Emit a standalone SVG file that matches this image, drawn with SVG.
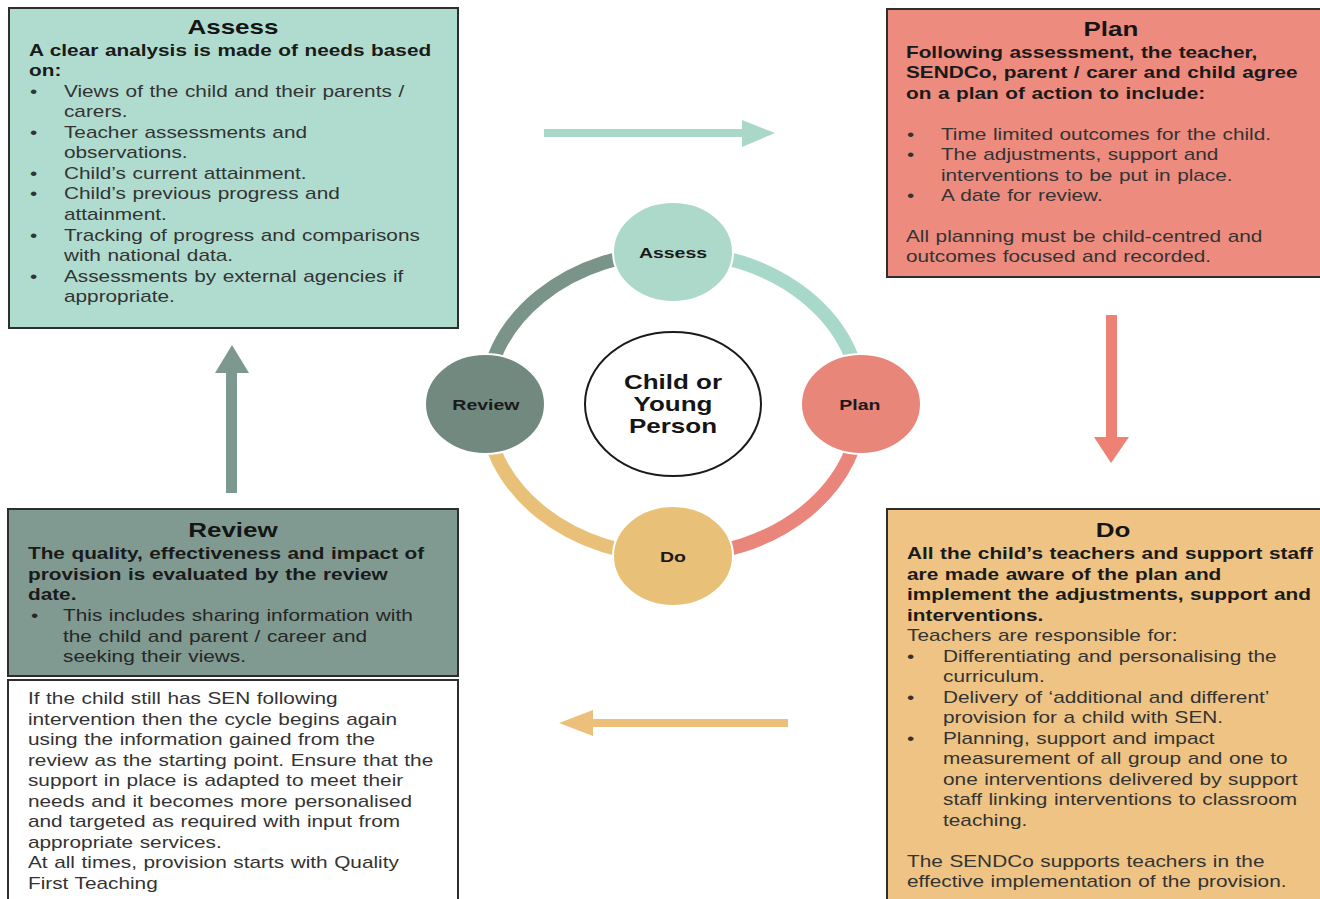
<svg xmlns="http://www.w3.org/2000/svg" width="1320" height="899" viewBox="0 0 1320 899">
<style>
  .t { font-family: "Liberation Sans", Arial, sans-serif; font-size: 16px; fill: #333333; word-spacing: 0.6px; }
  .b { font-weight: bold; fill: #1a1a1a; }
  .h { font-family: "Liberation Sans", Arial, sans-serif; font-size: 20px; font-weight: bold; text-anchor: middle; fill: #151515; }
  .c { font-family: "Liberation Sans", Arial, sans-serif; font-size: 15px; font-weight: bold; text-anchor: middle; fill: #1a1a1a; }
  .box { stroke: #2e2e2e; stroke-width: 2; }
  .ring { fill: none; stroke-width: 14; }
  .node { stroke: #ffffff; stroke-width: 2; }
</style>
<rect width="1320" height="899" fill="#ffffff"/>

<g id="connectors">
  <path class="ring" d="M673,252 A188,152 0 0 1 861,404" stroke="#a8d8c9"/>
  <path class="ring" d="M861,404 A188,152 0 0 1 673,556" stroke="#e9857a"/>
  <path class="ring" d="M673,556 A188,152 0 0 1 485,404" stroke="#e8c077"/>
  <path class="ring" d="M485,404 A188,152 0 0 1 673,252" stroke="#7b948a"/>
  <polygon points="544,129 742,129 742,120 775,133 742,147 742,137 544,137" fill="#a9d8c9"/>
  <polygon points="1106,315 1117,315 1117,437 1129,437 1111,463 1094,437 1106,437" fill="#ec8174"/>
  <polygon points="788,719 593,719 593,710 559,723 593,736 593,727 788,727" fill="#ecc07a"/>
  <polygon points="226,493 237,493 237,373 249,373 232,345 215,373 226,373" fill="#7d988e"/>
</g>

<g id="assess-box">
  <rect class="box" x="9" y="8" width="449" height="320" fill="#b0dccf"/>
  <g transform="scale(1.3 1)">
    <text class="h" x="179.2" y="34">Assess</text>
    <text class="t b" x="22.3" y="56">A clear analysis is made of needs based</text>
    <text class="t b" x="22.3" y="76">on:</text>
    <text class="t" x="23.1" y="97">•</text><text class="t" x="49.2" y="97">Views of the child and their parents /</text>
    <text class="t" x="49.2" y="117">carers.</text>
    <text class="t" x="23.1" y="138">•</text><text class="t" x="49.2" y="138">Teacher assessments  and</text>
    <text class="t" x="49.2" y="158">observations.</text>
    <text class="t" x="23.1" y="179">•</text><text class="t" x="49.2" y="179">Child’s current attainment.</text>
    <text class="t" x="23.1" y="199">•</text><text class="t" x="49.2" y="199">Child’s previous progress and</text>
    <text class="t" x="49.2" y="220">attainment.</text>
    <text class="t" x="23.1" y="241">•</text><text class="t" x="49.2" y="241">Tracking of progress and comparisons</text>
    <text class="t" x="49.2" y="261">with national data.</text>
    <text class="t" x="23.1" y="282">•</text><text class="t" x="49.2" y="282">Assessments by external agencies if</text>
    <text class="t" x="49.2" y="302">appropriate.</text>
  </g>
</g>

<g id="plan-box">
  <rect class="box" x="887" y="9" width="440" height="268" fill="#ee8b7f"/>
  <g transform="scale(1.3 1)">
    <text class="h" x="854.6" y="36">Plan</text>
    <text class="t b" x="696.9" y="58">Following assessment, the teacher,</text>
    <text class="t b" x="696.9" y="78">SENDCo, parent / carer and child agree</text>
    <text class="t b" x="696.9" y="99">on a plan of action to include:</text>
    <text class="t" x="697.7" y="140">•</text><text class="t" x="723.8" y="140">Time limited outcomes for the child.</text>
    <text class="t" x="697.7" y="160">•</text><text class="t" x="723.8" y="160">The adjustments, support and</text>
    <text class="t" x="723.8" y="181">interventions to be put in place.</text>
    <text class="t" x="697.7" y="201">•</text><text class="t" x="723.8" y="201">A date for review.</text>
    <text class="t" x="696.9" y="242">All planning must be child-centred and</text>
    <text class="t" x="696.9" y="262">outcomes focused and recorded.</text>
  </g>
</g>

<g id="review-box">
  <rect class="box" x="8" y="509" width="450" height="167" fill="#809a91"/>
  <g transform="scale(1.3 1)">
    <text class="h" x="179.2" y="537">Review</text>
    <text class="t b" x="21.5" y="559">The quality, effectiveness and impact of</text>
    <text class="t b" x="21.5" y="580">provision is evaluated by the review</text>
    <text class="t b" x="21.5" y="600">date.</text>
    <text class="t" x="23.8" y="621" style="fill:#262626">•</text><text class="t" x="48.5" y="621" style="fill:#262626">This includes sharing information with</text>
    <text class="t" x="48.5" y="642" style="fill:#262626">the child and parent / career and</text>
    <text class="t" x="48.5" y="662" style="fill:#262626">seeking their views.</text>
  </g>
</g>

<g id="repeat-note">
  <rect class="box" x="8" y="680" width="450" height="240" fill="#ffffff"/>
  <g transform="scale(1.3 1)">
    <text class="t" x="21.5" y="704">If the child still has SEN following</text>
    <text class="t" x="21.5" y="725">intervention then the cycle begins again</text>
    <text class="t" x="21.5" y="745">using the information gained from the</text>
    <text class="t" x="21.5" y="766">review as the starting point. Ensure that the</text>
    <text class="t" x="21.5" y="786">support in place is adapted to meet their</text>
    <text class="t" x="21.5" y="807">needs and it becomes more personalised</text>
    <text class="t" x="21.5" y="827">and targeted as required with input from</text>
    <text class="t" x="21.5" y="848">appropriate services.</text>
    <text class="t" x="21.5" y="868">At all times, provision starts with Quality</text>
    <text class="t" x="21.5" y="889">First Teaching</text>
  </g>
</g>

<g id="do-box">
  <rect class="box" x="887" y="509" width="440" height="420" fill="#eec383"/>
  <g transform="scale(1.3 1)">
    <text class="h" x="856.2" y="537">Do</text>
    <text class="t b" x="697.7" y="559">All the child’s teachers and support staff</text>
    <text class="t b" x="697.7" y="580">are made aware of the plan and</text>
    <text class="t b" x="697.7" y="600">implement the adjustments, support and</text>
    <text class="t b" x="697.7" y="621">interventions.</text>
    <text class="t" x="697.7" y="641">Teachers are responsible for:</text>
    <text class="t" x="697.7" y="662">•</text><text class="t" x="725.4" y="662">Differentiating and personalising the</text>
    <text class="t" x="725.4" y="682">curriculum.</text>
    <text class="t" x="697.7" y="703">•</text><text class="t" x="725.4" y="703">Delivery of ‘additional and different’</text>
    <text class="t" x="725.4" y="723">provision for a child with SEN.</text>
    <text class="t" x="697.7" y="744">•</text><text class="t" x="725.4" y="744">Planning, support and impact</text>
    <text class="t" x="725.4" y="764">measurement of all group and one to</text>
    <text class="t" x="725.4" y="785">one interventions delivered by support</text>
    <text class="t" x="725.4" y="805">staff linking interventions to classroom</text>
    <text class="t" x="725.4" y="826">teaching.</text>
    <text class="t" x="697.7" y="867">The SENDCo supports teachers in the</text>
    <text class="t" x="697.7" y="887">effective implementation of the provision.</text>
  </g>
</g>

<g id="center-node">
  <ellipse cx="673" cy="404" rx="88" ry="72" fill="#ffffff" stroke="#1a1a1a" stroke-width="2"/>
  <g transform="scale(1.3 1)">
    <text class="h" x="517.7" y="389">Child or</text>
    <text class="h" x="517.7" y="411">Young</text>
    <text class="h" x="517.7" y="433">Person</text>
  </g>
</g>

<g id="assess-node">
  <ellipse class="node" cx="673" cy="252" rx="60" ry="50" fill="#acd9c9"/>
  <text class="c" transform="scale(1.3 1)" x="517.7" y="258">Assess</text>
</g>
<g id="plan-node">
  <ellipse class="node" cx="861" cy="404" rx="60" ry="50" fill="#e8867a"/>
  <text class="c" transform="scale(1.3 1)" x="661.5" y="410">Plan</text>
</g>
<g id="do-node">
  <ellipse class="node" cx="673" cy="556" rx="60" ry="50" fill="#e9c078"/>
  <text class="c" transform="scale(1.3 1)" x="517.7" y="562">Do</text>
</g>
<g id="review-node">
  <ellipse class="node" cx="485" cy="404" rx="60" ry="50" fill="#71897f"/>
  <text class="c" transform="scale(1.3 1)" x="373.8" y="410">Review</text>
</g>
</svg>
